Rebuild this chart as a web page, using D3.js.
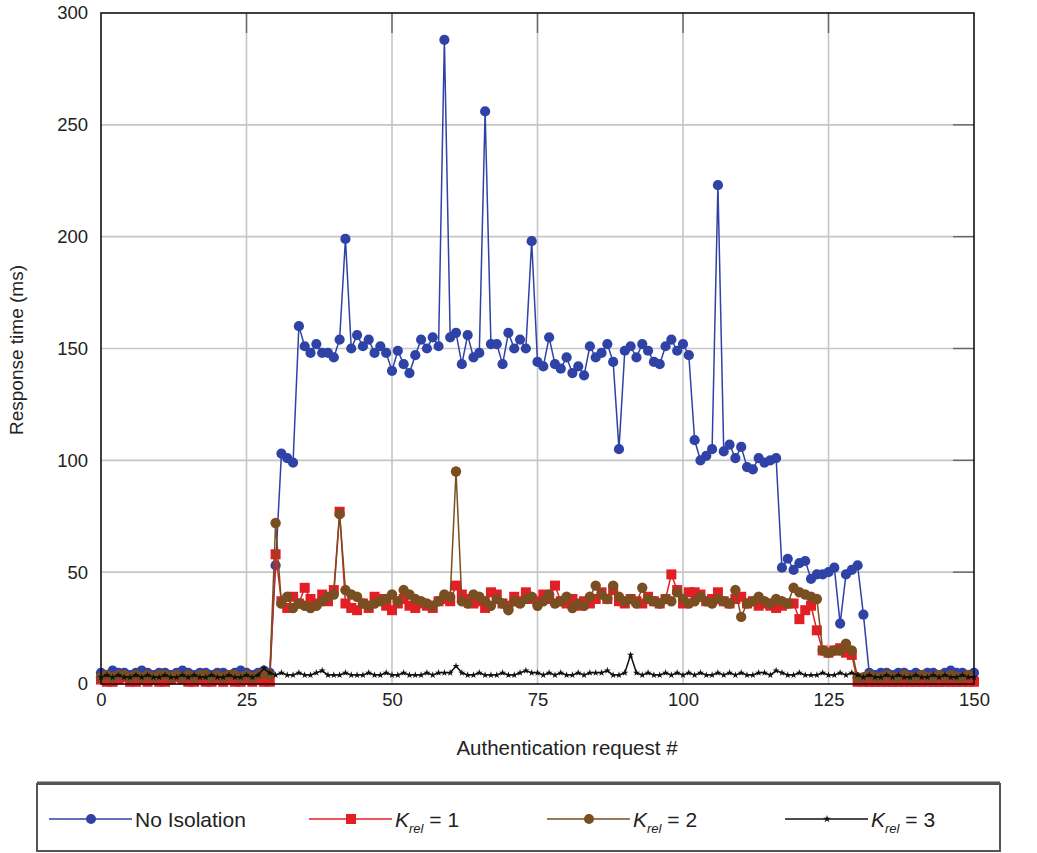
<!DOCTYPE html>
<html>
<head>
<meta charset="utf-8">
<script src="https://cdn.jsdelivr.net/npm/d3@7"></script>
<style>
  html, body { margin: 0; padding: 0; background: #fff; }
  svg { display: block; font-family: "Liberation Sans", Arial, sans-serif; }
</style>
</head>
<body>
<svg id="chart" width="1037" height="853"></svg>
<script>
// ---------------- DATA ----------------
const xTicks = [0, 25, 50, 75, 100, 125, 150];
const yTicks = [0, 50, 100, 150, 200, 250, 300];

// Response time (ms) for authentication requests 0..150
const noIsolation = [
  5,4,6,5,5,4,5,6,5,4,5,5,4,5,6,5,4,5,5,4,5,5,4,5,6,5,4,5,6,5,
  53,103,101,99,160,151,148,152,148,148,146,154,199,150,156,151,154,148,151,148,
  140,149,143,139,147,154,150,155,151,288,155,157,143,156,146,148,256,152,152,143,
  157,150,154,150,198,144,142,155,143,141,146,139,142,138,151,146,148,152,144,105,
  149,151,146,152,149,144,143,151,154,149,152,147,109,100,102,105,223,104,107,101,
  106,97,96,101,99,100,101,52,56,51,54,55,47,49,49,50,52,27,49,51,
  53,31,
  5,4,5,5,4,5,5,4,5,4,5,5,4,5,6,5,5,4,5
];

const kRel1 = [
  2,1,1,2,3,1,1,2,1,2,1,1,2,3,2,1,1,2,1,1,2,1,2,1,1,2,1,2,1,1,
  58,37,34,39,36,43,38,36,40,37,42,77,36,34,33,36,34,39,38,35,
  33,36,38,35,34,36,35,34,37,38,37,44,40,38,36,37,34,41,40,36,
  35,39,37,41,38,37,40,38,44,37,36,38,35,37,36,38,41,38,42,37,
  36,38,37,36,39,37,36,38,49,42,36,41,41,40,37,38,41,37,36,38,
  39,36,37,35,36,35,34,35,36,36,29,33,35,24,15,14,15,16,14,13,
  1,
  1,1,1,1,1,1,1,1,1,1,1,1,1,1,1,1,1,1,1,1
];

const kRel2 = [
  3,4,3,4,4,3,4,3,4,3,4,4,3,4,3,4,3,4,4,3,4,3,4,4,3,4,3,4,5,4,
  72,36,39,34,36,35,34,35,37,39,40,76,42,40,39,36,35,36,37,38,
  40,37,42,40,38,37,36,35,37,40,39,95,37,36,40,39,37,35,38,36,
  33,37,36,38,39,35,37,40,36,37,39,34,36,35,39,44,40,38,44,39,
  37,38,36,43,38,37,36,38,37,41,38,36,37,39,37,36,38,37,36,42,
  30,36,37,39,37,36,38,37,36,43,41,40,39,38,15,14,15,15,18,15,
  3,
  3,4,3,3,4,3,3,4,3,3,4,3,3,4,3,4,3,3,4
];

const kRel3 = [
  3,4,3,4,3,3,4,3,4,3,3,4,3,3,4,3,4,3,3,4,3,3,4,3,3,4,3,4,7,5,
  4,5,4,4,5,4,4,5,6,4,4,4,5,4,4,4,5,4,4,5,
  4,4,5,4,4,4,5,4,5,5,5,8,5,4,4,5,4,4,4,5,
  4,4,5,6,5,5,4,5,4,5,4,4,5,4,5,5,5,6,4,4,
  5,13,5,4,5,4,4,5,4,5,4,5,4,5,4,4,5,4,5,4,
  5,4,4,5,5,4,6,5,4,4,5,4,4,4,5,4,4,5,4,5,
  4,
  3,4,3,3,4,3,4,3,3,4,3,3,4,3,4,3,3,4,3,3
];

const seriesNames = ["No Isolation", "K_rel = 1", "K_rel = 2", "K_rel = 3"];
const seriesColors = ["#2f42a6", "#e31f26", "#7a4e20", "#111111"];

// ---------------- LAYOUT ----------------
(function () {
const svg = d3.select("#chart");
const pL = 101, pR = 974, pT = 13, pB = 684;

const x = d3.scaleLinear().domain([0, 150]).range([pL, pR]);
const y = d3.scaleLinear().domain([0, 300]).range([pB, pT]);

// grid
const grid = svg.append("g");
grid.selectAll("line.v").data(xTicks.slice(1, -1)).join("line")
  .attr("x1", d => x(d)).attr("x2", d => x(d))
  .attr("y1", pT).attr("y2", pB)
  .attr("stroke", "#c6c6c6").attr("stroke-width", 1.6);
grid.selectAll("line.h").data(yTicks.slice(1, -1)).join("line")
  .attr("x1", pL).attr("x2", pR)
  .attr("y1", d => y(d)).attr("y2", d => y(d))
  .attr("stroke", "#c6c6c6").attr("stroke-width", 1.6);

// inward ticks on top and right
svg.append("g").selectAll("line").data(xTicks.slice(1, -1)).join("line")
  .attr("x1", d => x(d)).attr("x2", d => x(d))
  .attr("y1", pT).attr("y2", pT + 20)
  .attr("stroke", "#666").attr("stroke-width", 1.4);
svg.append("g").selectAll("line").data(yTicks.slice(1, -1)).join("line")
  .attr("x1", pR - 21).attr("x2", pR)
  .attr("y1", d => y(d)).attr("y2", d => y(d))
  .attr("stroke", "#666").attr("stroke-width", 1.4);

// axes (labels)
const xAxis = svg.append("g").attr("transform", `translate(0,${pB})`)
  .call(d3.axisBottom(x).tickValues(xTicks).tickSize(0).tickPadding(9).tickFormat(d3.format("d")));
xAxis.select(".domain").remove();
xAxis.selectAll("text").attr("font-size", 18.5).attr("fill", "#222")
  .attr("font-family", "'Liberation Sans', Arial, sans-serif");

const yAxis = svg.append("g").attr("transform", `translate(${pL},0)`)
  .call(d3.axisLeft(y).tickValues(yTicks).tickSize(0).tickPadding(13).tickFormat(d3.format("d")));
yAxis.select(".domain").remove();
yAxis.selectAll("text").attr("font-size", 18.5).attr("fill", "#222")
  .attr("font-family", "'Liberation Sans', Arial, sans-serif");

// data series
const allSeries = [noIsolation, kRel1, kRel2, kRel3];
const line = d3.line().x((d, i) => x(i)).y(d => y(d));
const plot = svg.append("g");

allSeries.forEach((vals, si) => {
  const g = plot.append("g");
  g.append("path").datum(vals).attr("d", line)
    .attr("fill", "none").attr("stroke", seriesColors[si])
    .attr("stroke-width", si === 3 ? 1.5 : 1.5).attr("stroke-linejoin", "round");
  if (si === 0 || si === 2) {
    g.selectAll("circle").data(vals).join("circle")
      .attr("cx", (d, i) => x(i)).attr("cy", d => y(d))
      .attr("r", si === 0 ? 5.1 : 5.2).attr("fill", seriesColors[si]);
  } else if (si === 1) {
    g.selectAll("rect").data(vals).join("rect")
      .attr("x", (d, i) => x(i) - 5).attr("y", d => y(d) - 5)
      .attr("width", 10).attr("height", 10).attr("fill", seriesColors[si]);
  } else {
    g.selectAll("path.m").data(vals).join("path").attr("class", "m")
      .attr("transform", (d, i) => `translate(${x(i)},${y(d)})`)
      .attr("d", d3.symbol(d3.symbolStar, 16)).attr("fill", seriesColors[si]);
  }
});

// frame
svg.append("rect").attr("x", pL).attr("y", pT)
  .attr("width", pR - pL).attr("height", pB - pT)
  .attr("fill", "none").attr("stroke", "#111").attr("stroke-width", 1.6);

// axis titles
svg.append("text").attr("x", 567).attr("y", 755).attr("text-anchor", "middle")
  .attr("font-size", 20.5).attr("fill", "#222").text("Authentication request #");
svg.append("text").attr("transform", "translate(23,350) rotate(-90)")
  .attr("text-anchor", "middle").attr("font-size", 19).attr("fill", "#222")
  .text("Response time (ms)");

// legend
const leg = svg.append("g");
leg.append("rect").attr("x", 37).attr("y", 784).attr("width", 963).attr("height", 67)
  .attr("fill", "#fff").attr("stroke", "#555").attr("stroke-width", 2);
leg.append("line").attr("x1", 37).attr("x2", 1000).attr("y1", 783).attr("y2", 783)
  .attr("stroke", "#555").attr("stroke-width", 3);

const legX = [49, 309, 547, 785];
const legY = 819;
seriesNames.forEach((name, si) => {
  const x0 = legX[si];
  leg.append("line").attr("x1", x0).attr("x2", x0 + 83).attr("y1", legY).attr("y2", legY)
    .attr("stroke", seriesColors[si]).attr("stroke-width", 1.6);
  const mx = x0 + 42;
  if (si === 0 || si === 2) {
    leg.append("circle").attr("cx", mx).attr("cy", legY).attr("r", 5).attr("fill", seriesColors[si]);
  } else if (si === 1) {
    leg.append("rect").attr("x", mx - 5).attr("y", legY - 5).attr("width", 10).attr("height", 10)
      .attr("fill", seriesColors[si]);
  } else {
    leg.append("path").attr("transform", `translate(${mx},${legY})`)
      .attr("d", d3.symbol(d3.symbolStar, 18)).attr("fill", seriesColors[si]);
  }
  const t = leg.append("text").attr("x", x0 + 86).attr("y", legY + 7.5)
    .attr("font-size", 21).attr("fill", "#222");
  if (si === 0) {
    t.text(name);
  } else {
    const parts = name.split("_");
    const sub = parts[1].split(" ")[0];
    const rest = parts[1].slice(sub.length);
    t.append("tspan").attr("font-style", "italic").text(parts[0]);
    t.append("tspan").attr("font-style", "italic").attr("font-size", 13).attr("dy", 6).text(sub);
    t.append("tspan").attr("dy", -6).text(rest);
  }
});
})();
</script>
</body>
</html>
